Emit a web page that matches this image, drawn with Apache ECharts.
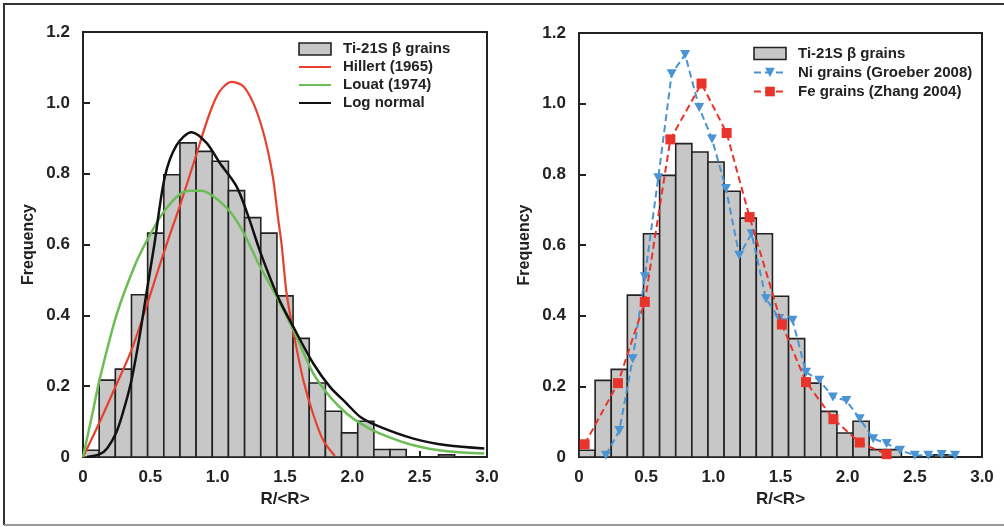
<!DOCTYPE html>
<html>
<head>
<meta charset="utf-8">
<script src="https://cdn.jsdelivr.net/npm/echarts@6/dist/echarts.min.js"></script>
<style>
html,body{margin:0;padding:0;background:#fff;}
#c{width:1004px;height:527px;}
</style>
</head>
<body>
<div id="c"></div>
<script>
// ---------- data ----------
const binEdges = [0,0.12,0.24,0.36,0.48,0.60,0.72,0.84,0.96,1.08,1.20,1.32,1.44,1.56,1.68,1.80,1.92,2.04,2.16,2.28,2.40,2.52,2.64,2.76,2.88,3.00];
const tiHeights = [0.019,0.217,0.248,0.458,0.632,0.797,0.887,0.863,0.835,0.752,0.676,0.632,0.455,0.335,0.209,0.129,0.068,0.101,0.021,0.021,0,0,0.006,0,0];

const hillert = [[0.0,0.0],[0.124,0.099],[0.236,0.194],[0.36,0.302],[0.471,0.425],[0.558,0.528],[0.632,0.613],[0.72,0.71],[0.83,0.84],[0.942,0.972],[1.016,1.033],[1.103,1.059],[1.19,1.047],[1.264,1.0],[1.326,0.934],[1.376,0.859],[1.413,0.783],[1.45,0.67],[1.475,0.6],[1.512,0.462],[1.574,0.33],[1.636,0.217],[1.71,0.12],[1.784,0.047],[1.87,0.003]];
const louat = [[0.0,0.0],[0.074,0.13],[0.124,0.22],[0.248,0.4],[0.384,0.54],[0.48,0.615],[0.595,0.69],[0.719,0.742],[0.8,0.752],[0.88,0.752],[0.967,0.736],[1.091,0.693],[1.19,0.635],[1.314,0.538],[1.438,0.453],[1.561,0.36],[1.71,0.236],[1.834,0.17],[1.958,0.123],[2.082,0.09],[2.206,0.066],[2.454,0.033],[2.702,0.016],[2.98,0.01]];
const logNormal = [[0.03,0.0],[0.124,0.008],[0.18,0.025],[0.248,0.07],[0.3,0.13],[0.36,0.217],[0.42,0.34],[0.47,0.46],[0.53,0.6],[0.607,0.79],[0.694,0.88],[0.806,0.917],[0.917,0.887],[1.016,0.83],[1.14,0.764],[1.227,0.68],[1.32,0.575],[1.45,0.45],[1.561,0.368],[1.71,0.264],[1.834,0.198],[1.958,0.151],[2.06,0.113],[2.206,0.085],[2.454,0.052],[2.702,0.033],[2.98,0.024]];

const niGrains = [[0.2,0.005],[0.3,0.075],[0.4,0.278],[0.49,0.51],[0.59,0.79],[0.69,1.085],[0.79,1.139],[0.895,0.989],[0.99,0.9],[1.094,0.76],[1.193,0.571],[1.285,0.632],[1.392,0.448],[1.49,0.392],[1.59,0.387],[1.69,0.24],[1.79,0.217],[1.89,0.17],[1.99,0.16],[2.09,0.108],[2.19,0.052],[2.29,0.038],[2.39,0.019],[2.5,0.005],[2.6,0.005],[2.7,0.007],[2.8,0.005]];
const feGrains = [[0.042,0.036],[0.29,0.209],[0.49,0.439],[0.68,0.899],[0.912,1.057],[1.099,0.917],[1.27,0.679],[1.51,0.375],[1.69,0.212],[1.894,0.107],[2.09,0.041],[2.29,0.008]];

const xTicks = {min:0, max:3.0, interval:0.5};
const yTicks = {min:0, max:1.2, interval:0.2};
const names = {bars:'Ti-21S β grains', hillert:'Hillert (1965)', louat:'Louat (1974)', logn:'Log normal', ni:'Ni grains (Groeber 2008)', fe:'Fe grains (Zhang 2004)'};

// ---------- chart ----------
const FONT = '"Liberation Sans", Arial, Helvetica, sans-serif';
const INK = '#222';
const barData = [];
for (let i = 0; i < tiHeights.length; i++) {
  if (tiHeights[i] > 0) barData.push([binEdges[i], binEdges[i+1], tiHeights[i]]);
}
function renderBar(params, api) {
  const p0 = api.coord([api.value(0), api.value(2)]);
  const p1 = api.coord([api.value(1), 0]);
  return {type:'rect', shape:{x:p0[0], y:p0[1], width:p1[0]-p0[0], height:p1[1]-p0[1]},
    style:{fill:'#c7c7c7', stroke:INK, lineWidth:1.6}};
}
const fmt = v => v === 0 ? '0' : v.toFixed(1);

function xAx(gi){
  return {type:'value', gridIndex:gi, min:xTicks.min, max:xTicks.max, interval:xTicks.interval,
    name:'R/<R>', nameLocation:'middle', nameGap:31,
    nameTextStyle:{fontFamily:FONT, fontWeight:'bold', fontSize:17, color:INK},
    axisLine:{show:false}, splitLine:{show:false},
    axisTick:{show:true, inside:true, length:6, lineStyle:{color:INK, width:2}},
    axisLabel:{formatter:fmt, margin:12, fontFamily:FONT, fontWeight:'bold', fontSize:17, color:INK}};
}
function yAx(gi){
  return {type:'value', gridIndex:gi, min:yTicks.min, max:yTicks.max, interval:yTicks.interval,
    name:'Frequency', nameLocation:'middle', nameGap:46,
    nameTextStyle:{fontFamily:FONT, fontWeight:'bold', fontSize:16, color:INK},
    axisLine:{show:false}, splitLine:{show:false},
    axisTick:{show:true, inside:true, length:7, lineStyle:{color:INK, width:2}},
    axisLabel:{formatter:fmt, margin:13, fontFamily:FONT, fontWeight:'bold', fontSize:17, color:INK}};
}
const legendText = {fontFamily:FONT, fontWeight:'bold', fontSize:15, color:INK, padding:[0,0,0,7]};
const barLegendItem = {name:names.bars, icon:'rect', itemStyle:{color:'#c7c7c7', borderColor:INK, borderWidth:1.6}};
const plainLine = n => ({name:n, itemStyle:{opacity:0}});

const chart = echarts.init(document.getElementById('c'), null, {renderer:'canvas'});
chart.setOption({
  animation:false,
  backgroundColor:'#fff',
  grid:[
    {left:83, top:32, width:404, height:425, show:true, borderColor:INK, borderWidth:2, backgroundColor:'transparent'},
    {left:579, top:33, width:403, height:424, show:true, borderColor:INK, borderWidth:2, backgroundColor:'transparent'}
  ],
  xAxis:[xAx(0), xAx(1)],
  yAxis:[yAx(0), yAx(1)],
  legend:[
    {left:298, top:40, padding:0, orient:'vertical', itemWidth:32, itemHeight:12, itemGap:0,
     textStyle:Object.assign({lineHeight:18}, legendText), selectedMode:false,
     data:[barLegendItem, plainLine(names.hillert), plainLine(names.louat), plainLine(names.logn)]},
    {left:753, top:44, padding:0, orient:'vertical', itemWidth:32, itemHeight:12, itemGap:0,
     textStyle:Object.assign({lineHeight:19}, legendText), selectedMode:false,
     data:[barLegendItem, names.ni, names.fe]}
  ],
  series:[
    {type:'custom', name:names.bars, xAxisIndex:0, yAxisIndex:0, renderItem:renderBar, data:barData,
     encode:{x:[0,1], y:2}, itemStyle:{color:'#c7c7c7'}, z:1},
    {type:'line', name:names.hillert, xAxisIndex:0, yAxisIndex:0, data:hillert, smooth:0.3, symbol:'none',
     lineStyle:{color:'#e8402c', width:2.2}, itemStyle:{color:'#e8402c'}, z:3},
    {type:'line', name:names.louat, xAxisIndex:0, yAxisIndex:0, data:louat, smooth:0.3, symbol:'none',
     lineStyle:{color:'#6cbd55', width:2.5}, itemStyle:{color:'#6cbd55'}, z:3},
    {type:'line', name:names.logn, xAxisIndex:0, yAxisIndex:0, data:logNormal, smooth:0.3, symbol:'none',
     lineStyle:{color:'#111', width:2.5}, itemStyle:{color:'#111'}, z:4},
    {type:'custom', name:names.bars, xAxisIndex:1, yAxisIndex:1, renderItem:renderBar, data:barData,
     encode:{x:[0,1], y:2}, itemStyle:{color:'#c7c7c7'}, z:1},
    {type:'line', name:names.ni, xAxisIndex:1, yAxisIndex:1, data:niGrains,
     symbol:'path://M0,0 L10,0 L5,9 Z', symbolSize:[10,9],
     lineStyle:{color:'#4a94d4', width:2, type:[7,4]}, itemStyle:{color:'#4a94d4'}, z:4},
    {type:'line', name:names.fe, xAxisIndex:1, yAxisIndex:1, data:feGrains,
     symbol:'rect', symbolSize:10,
     lineStyle:{color:'#e8342a', width:2, type:[7,4]}, itemStyle:{color:'#e8342a'}, z:5}
  ],
  graphic:[
    {type:'polyline', shape:{points:[[4,525],[4,4],[1004,4]]}, style:{stroke:'#333', lineWidth:2, fill:null}, silent:true},
    {type:'line', shape:{x1:4, y1:525, x2:1004, y2:525}, style:{stroke:'#999', lineWidth:2}, silent:true}
  ]
});
</script>
</body>
</html>
